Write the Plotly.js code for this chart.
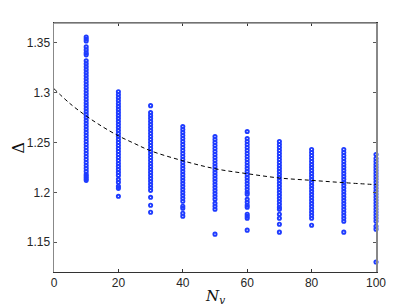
<!DOCTYPE html>
<html>
<head>
<meta charset="utf-8">
<script src="https://cdn.plot.ly/plotly-3.0.1.min.js"></script>
<style>html,body{margin:0;padding:0;background:#fff;}#chart{width:415px;height:306px;}</style>
</head>
<body>
<div id="chart"></div>
<script>
// Values
var groupX = [10, 20, 30, 40, 50, 60, 70, 80, 90, 100];
var col10 = [1.356,1.354,1.352,1.346,1.343,1.340,1.338,
  1.332,1.329,1.326,1.323,1.320,1.317,1.314,1.311,1.308,1.305,1.302,1.299,1.296,1.293,1.290,1.287,1.284,1.281,1.278,1.275,1.272,1.269,1.266,1.263,1.260,1.257,1.254,1.251,1.248,1.245,1.242,1.239,1.236,1.233,1.230,1.227,1.224,1.221,
  1.218,1.216,1.214,1.212];
var col20 = [1.301,1.298,1.295,1.292,1.289,1.286,1.283,1.280,1.277,1.274,1.271,1.268,1.265,1.262,1.259,1.256,1.253,1.250,1.247,1.244,1.241,1.238,1.235,1.232,1.229,1.226,1.223,1.220,1.217,
  1.213,1.210,1.206,1.204,1.196];
var col30 = [1.287,
  1.280,1.277,1.274,1.271,1.268,1.265,1.262,1.259,1.256,1.253,1.250,1.247,1.244,1.241,1.238,1.235,1.232,1.229,1.226,1.223,1.220,1.217,1.214,1.211,1.208,1.205,1.202,
  1.195,1.187,1.180];
var col40 = [1.266,1.263,1.260,1.257,1.254,1.251,1.248,1.245,1.242,1.239,1.236,1.233,1.230,1.227,1.224,1.221,1.218,1.215,1.212,1.209,1.206,1.203,1.200,1.197,
  1.194,1.191,1.186,1.184,1.179,1.176];
var col50 = [1.256,1.253,1.250,1.247,1.244,1.241,1.238,1.235,1.232,1.229,1.226,1.223,1.220,1.217,1.214,1.211,1.208,1.205,1.202,1.199,1.196,1.193,
  1.189,1.186,1.183,1.158];
var col60 = [1.261,
  1.254,1.251,1.248,1.245,1.242,1.239,1.236,1.233,1.230,1.227,1.224,1.221,1.218,1.215,1.212,1.209,1.206,1.203,1.200,1.198,
  1.193,1.190,1.187,1.185,1.178,1.176,1.174,1.162];
var col70 = [1.251,1.248,1.245,1.242,1.239,1.236,1.233,1.230,1.227,1.224,1.221,1.218,1.215,1.212,1.209,1.206,1.203,1.200,1.197,1.194,1.191,1.188,1.185,1.183,
  1.178,1.174,1.168,1.160];
var col80 = [1.243,1.240,1.237,1.234,1.231,1.228,1.225,1.222,1.219,1.216,1.213,1.210,1.207,1.204,1.201,1.198,1.195,1.192,1.189,1.186,1.183,1.180,
  1.177,1.174,1.167];
var col90 = [1.243,1.240,1.237,1.234,1.231,1.228,1.225,1.222,1.219,1.216,1.213,1.210,1.207,1.204,1.201,1.198,1.195,1.192,1.189,1.186,1.183,1.180,1.177,1.174,1.171,
  1.160];
var col100 = [1.238,
  1.234,1.231,1.228,1.225,1.222,1.219,1.216,1.213,1.210,1.207,1.204,1.201,1.198,1.195,1.192,1.189,1.186,1.183,1.180,1.177,1.174,1.171,
  1.166,1.163,1.130];
var columns = [col10, col20, col30, col40, col50, col60, col70, col80, col90, col100];

var fitX = [0, 5, 10, 15, 20, 25, 30, 40, 50, 60, 70, 80, 90, 100];
var fitY = [1.304, 1.289, 1.2767, 1.266, 1.2567, 1.249, 1.2417, 1.2317, 1.2237, 1.2187, 1.2144, 1.212, 1.2097, 1.2077];

var xTicks = [0, 20, 40, 60, 80, 100];
var yTicks = [1.15, 1.2, 1.25, 1.3, 1.35];
var yTickText = ['1.15', '1.2', '1.25', '1.3', '1.35'];

var px = [], py = [];
for (var i = 0; i < groupX.length; i++) {
  for (var j = 0; j < columns[i].length; j++) { px.push(groupX[i]); py.push(columns[i][j]); }
}

var traces = [
  {x: px, y: py, type: 'scatter', mode: 'markers', hoverinfo: 'none', cliponaxis: false,
   marker: {symbol: 'circle-open', size: 3.2, color: '#1f3cff', line: {width: 1.9, color: '#1f3cff'}}},
  {x: fitX, y: fitY, type: 'scatter', mode: 'lines', hoverinfo: 'none',
   line: {color: '#000', width: 1, dash: '4px,3px', shape: 'spline'}}
];

var tickFont = {family: 'Liberation Sans, Arial, sans-serif', size: 12, color: '#262626'};
var layout = {
  width: 415, height: 306,
  margin: {l: 54, r: 39, t: 23, b: 34},
  paper_bgcolor: '#fff', plot_bgcolor: '#fff',
  showlegend: false,
  xaxis: {range: [0, 100], tickvals: xTicks, ticks: 'inside', ticklen: 3, tickcolor: '#333',
          showline: true, linecolor: '#333', linewidth: 1, mirror: 'ticks', showgrid: false, zeroline: false,
          tickfont: tickFont},
  yaxis: {range: [1.12, 1.37], tickvals: yTicks, ticktext: yTickText, ticks: 'inside', ticklen: 3, tickcolor: '#555',
          showline: true, linecolor: '#888', linewidth: 1.5, mirror: 'ticks', showgrid: false, zeroline: false,
          tickfont: tickFont},
  shapes: [
    {type: 'line', xref: 'paper', yref: 'paper', x0: 0, x1: 1, y0: 1, y1: 1, line: {color: '#888', width: 1.5}, layer: 'above'}
  ],
  annotations: [
    {text: '<i>N</i><sub><i>v</i></sub>', xref: 'paper', yref: 'paper', x: 0.5, y: 0, yshift: -14, xanchor: 'center', yanchor: 'top',
     showarrow: false, borderpad: 0, font: {family: 'DejaVu Serif, Liberation Serif, serif', size: 15, color: '#111'}},
    {text: 'Δ', xref: 'paper', yref: 'paper', x: 0, xshift: -36, y: 0.5, xanchor: 'center', yanchor: 'middle', textangle: -90,
     showarrow: false, font: {family: 'DejaVu Serif, Liberation Serif, serif', size: 16, color: '#111'}}
  ]
};

Plotly.newPlot('chart', traces, layout, {staticPlot: true, displayModeBar: false});
</script>
</body>
</html>
